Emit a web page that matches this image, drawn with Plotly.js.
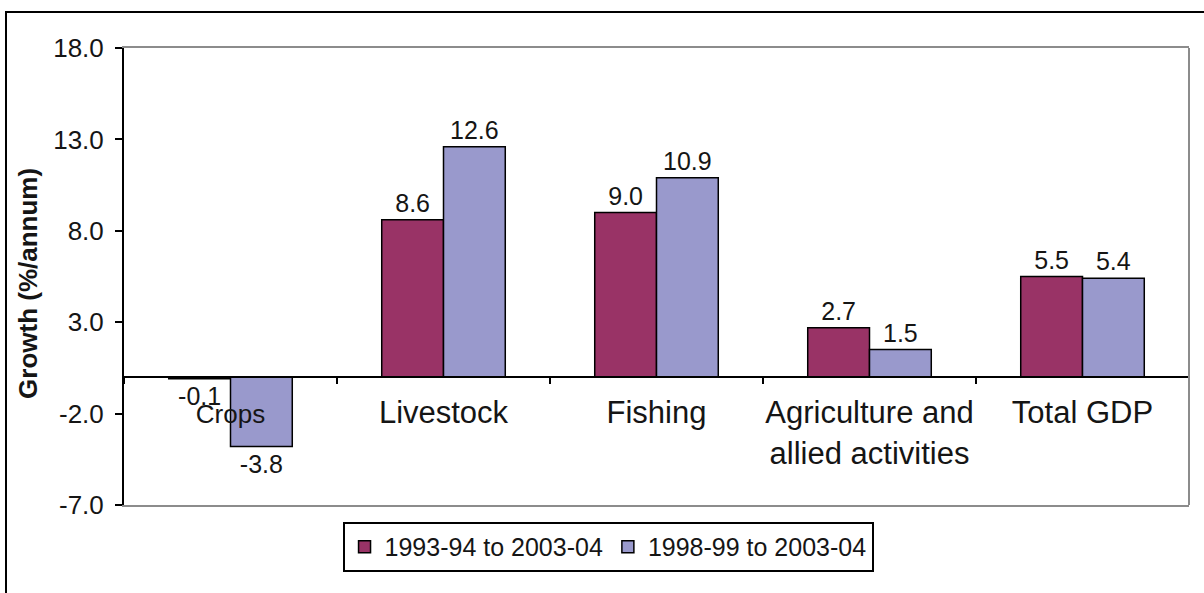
<!DOCTYPE html>
<html>
<head>
<meta charset="utf-8">
<script src="https://cdn.plot.ly/plotly-3.0.1.min.js"></script>
<style>
  html, body { margin: 0; padding: 0; background: #fff; overflow: hidden; }
  #frame { position: absolute; left: 5px; top: 11px; width: 1300px; height: 700px;
           border: 2px solid #000; box-sizing: border-box; }
  #chart { position: absolute; left: 0; top: 0; width: 1204px; height: 593px; }
</style>
</head>
<body>
<div id="frame"></div>
<div id="chart"></div>
<script>
// Sector growth rates, % per annum
const categories = ['Crops', 'Livestock', 'Fishing', 'Agriculture and<br>allied activities', 'Total GDP'];
const seriesNames = ['1993-94 to 2003-04', '1998-99 to 2003-04'];
const growth1993 = [-0.1, 8.6, 9.0, 2.7, 5.5];
const growth1998 = [-3.8, 12.6, 10.9, 1.5, 5.4];
const yTicks = [-7, -2, 3, 8, 13, 18];

const FONT = 'Liberation Sans, Arial, sans-serif';
const TEXT = '#151515';

// the first category name is set a little smaller along the zero axis
const axisLabels = categories.map((c, i) =>
  i === 0 ? '<span style="font-size:26px">' + c + '</span>' : c);

function barTrace(name, values, color) {
  return {
    type: 'bar',
    name: name,
    x: categories,
    y: values,
    marker: { color: color, line: { color: '#000', width: 1.5 } },
    texttemplate: '%{y:.1f}',
    textposition: 'outside',
    textfont: { family: FONT, size: 25, color: TEXT },
    cliponaxis: false,
    hoverinfo: 'x+y'
  };
}

const data = [
  barTrace(seriesNames[0], growth1993, '#993366'),
  barTrace(seriesNames[1], growth1998, '#9999CC'),
  // carries the category names for the axis drawn along zero
  { type: 'scatter', mode: 'none', x: axisLabels, y: axisLabels.map(() => 0),
    xaxis: 'x2', yaxis: 'y', showlegend: false, hoverinfo: 'skip' }
];

const layout = {
  width: 1204,
  height: 593,
  margin: { l: 124, r: 15, t: 48, b: 88 },
  paper_bgcolor: 'rgba(0,0,0,0)',
  plot_bgcolor: '#fff',
  font: { family: FONT, color: TEXT },
  barmode: 'group',
  bargap: 0.42,
  bargroupgap: 0,
  showlegend: true,
  xaxis: {
    type: 'category',
    range: [-0.5, 4.5],
    showline: true, linecolor: '#8c8c8c', linewidth: 2, mirror: true,
    showticklabels: false, ticks: '', showgrid: false, zeroline: false,
    fixedrange: true
  },
  xaxis2: {
    type: 'category',
    overlaying: 'x',
    anchor: 'free',
    position: 7 / 25,
    range: [-0.5, 4.5],
    showline: true, linecolor: '#000', linewidth: 2,
    ticks: 'outside', tickson: 'boundaries', ticklen: 6, tickwidth: 2, tickcolor: '#000',
    tickangle: 0,
    ticklabelstandoff: 8,
    tickfont: { family: FONT, size: 31, color: TEXT },
    showgrid: false, zeroline: false, fixedrange: true
  },
  yaxis: {
    range: [-7, 18],
    tickmode: 'array',
    tickvals: yTicks,
    ticktext: yTicks.map(v => v.toFixed(1)),
    showline: true, linecolor: '#000', linewidth: 2,
    ticks: 'outside', ticklen: 7, tickwidth: 2, tickcolor: '#000',
    ticklabelstandoff: 6,
    tickfont: { family: FONT, size: 26, color: TEXT },
    showgrid: false, zeroline: false, fixedrange: true
  },
  legend: {
    orientation: 'h',
    x: 0.4545, xanchor: 'center',
    y: -0.037, yanchor: 'top',
    bgcolor: '#fff', bordercolor: '#000', borderwidth: 2,
    font: { family: FONT, size: 25, color: TEXT },
    traceorder: 'normal'
  },
  shapes: [
    { type: 'line', xref: 'paper', yref: 'paper', x0: 1, x1: 1, y0: 0, y1: 1,
      line: { color: '#8c8c8c', width: 2 } }
  ],
  annotations: [
    { text: '<b>Growth (%/annum)</b>', textangle: -90,
      xref: 'paper', yref: 'paper', x: -0.09, y: 0.484,
      xanchor: 'center', yanchor: 'middle', showarrow: false,
      font: { family: FONT, size: 26, color: TEXT } }
  ]
};

Plotly.newPlot('chart', data, layout, { displayModeBar: false, staticPlot: true });
</script>
</body>
</html>
